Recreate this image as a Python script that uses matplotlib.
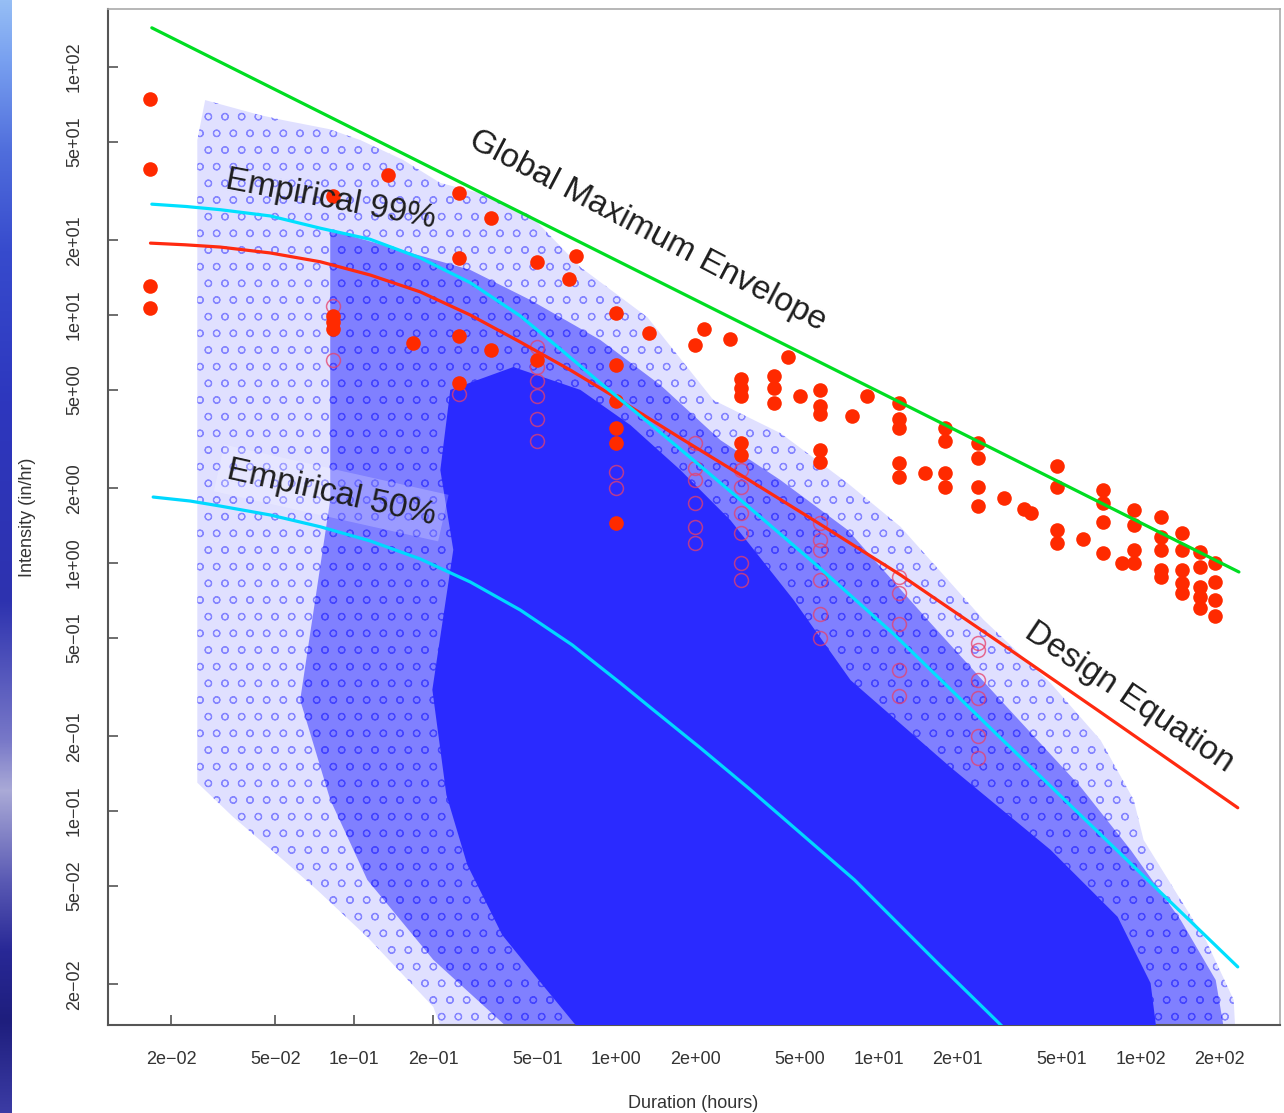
import numpy as np
import matplotlib.pyplot as plt
from matplotlib.ticker import FixedLocator, NullLocator, FixedFormatter

plt.rcParams['font.family'] = ['Liberation Sans', 'DejaVu Sans']
plt.rcParams['hatch.linewidth'] = 0.8

# duration (hours) / intensity (in/hr) curves
envelope_dur = [0.0169, 237.0]
envelope_int = [144.0, 0.92]

emp99_dur = [0.0169, 0.02285, 0.0308, 0.0478, 0.0742, 0.1151, 0.1786, 0.2773, 0.4302, 0.611,
             0.869, 1.348, 2.093, 3.162, 5.85, 11.4, 29.2, 234.6]
emp99_int = [28.0, 27.4, 26.6, 25.1, 22.4, 20.2, 17.0, 13.5, 9.91, 7.29,
             5.32, 3.63, 2.46, 1.70, 0.973, 0.518, 0.197, 0.0235]

emp50_dur = [0.0171, 0.02366, 0.0308, 0.0478, 0.0742, 0.1151, 0.1786, 0.2773, 0.4302, 0.679,
             1.036, 1.384, 2.092, 3.219, 8.10, 17.1, 27.97, 32.5]
emp50_int = [1.845, 1.778, 1.697, 1.562, 1.40, 1.227, 1.038, 0.838, 0.646, 0.467,
             0.328, 0.2555, 0.1795, 0.1227, 0.0527, 0.0239, 0.01437, 0.01227]

design_dur = [0.0167, 0.02264, 0.0308, 0.0478, 0.0742, 0.1151, 0.1786, 0.2773, 0.4302, 0.667,
              0.974, 1.755, 3.162, 5.65, 12.13, 29.2, 68.5, 234.6]
design_int = [19.5, 19.2, 18.8, 17.8, 16.4, 14.5, 12.4, 10.0, 7.78, 6.0,
              4.71, 3.19, 2.18, 1.49, 0.895, 0.475, 0.255, 0.103]

# extent of the storm record cloud (outer sparse fringe, denser band, saturated core)
fringe_dur = [0.0252, 0.0270, 0.0438, 0.0536, 0.0803, 0.1054, 0.1538, 0.213, 0.3027, 0.4697,
              0.729, 1.313, 2.345, 4.225, 7.62, 12.13, 25.17, 45.3, 70.3, 94.0, 102.6, 138.4,
              177.1, 226.3, 230.6, 0.2225, 0.2003, 0.1122, 0.0722, 0.0536, 0.0345, 0.0252]
fringe_int = [50.8, 73.6, 64.0, 61.1, 56.2, 50.8, 42.2, 34.1, 31.0, 25.3,
              15.6, 9.8, 4.54, 3.34, 2.10, 1.40, 0.59, 0.328, 0.193, 0.111, 0.0764, 0.0458,
              0.0302, 0.0173, 0.012, 0.012, 0.0162, 0.0310, 0.0480, 0.0634, 0.0946, 0.130]

band_dur = [0.081, 0.150, 0.2773, 0.4697, 0.869, 1.472, 2.494, 4.225, 7.62, 15.39, 29.2, 59.0,
            91.5, 142.1, 193.3, 211.0, 0.4302, 0.2003, 0.1122, 0.081, 0.0622, 0.081]
band_int = [22.0, 18.3, 15.2, 11.5, 7.93, 5.22, 3.13, 2.16, 1.36, 0.59, 0.28, 0.125,
            0.0697, 0.0363, 0.0208, 0.012, 0.012, 0.0251, 0.0527, 0.111, 0.280, 1.80]

core_dur = [0.2325, 0.4045, 0.729, 1.131, 1.755, 2.72, 4.74, 7.82, 18.83, 45.3, 81.7, 109.1,
            116.1, 0.775, 0.5309, 0.367, 0.270, 0.2247, 0.1986, 0.2387, 0.213]
core_int = [4.99, 6.17, 4.99, 3.60, 2.37, 1.49, 0.71, 0.337, 0.150, 0.0697, 0.0374, 0.0202,
            0.012, 0.012, 0.0195, 0.0316, 0.0606, 0.116, 0.308, 1.13, 2.37]

# observed extremes: (duration, intensities)
extreme_obs = [
    (0.0167, [74.3, 38.8, 13.1, 10.7]),
    (0.083, [30.2, 9.9, 9.4, 8.8]),
    (0.134, [36.7]),
    (0.167, [7.7]),
    (0.25, [31.1, 17.0, 8.2, 5.3]),
    (0.333, [24.6, 7.2]),
    (0.5, [16.4, 6.6]),
    (0.66, [14.0]), (0.70, [17.3]),
    (1.0, [10.2, 6.3, 4.5, 3.5, 3.05, 1.45]),
    (1.33, [8.5]),
    (2.0, [7.6]), (2.15, [8.8]), (2.72, [8.0]),
    (3.0, [5.5, 5.1, 4.7, 3.05, 2.72]),
    (4.0, [5.7, 5.1, 4.4]),
    (4.5, [6.8]), (5.0, [4.7]),
    (6.0, [5.0, 4.3, 4.0, 2.86, 2.55]),
    (7.9, [3.9]), (9.0, [4.7]),
    (12.0, [4.4, 3.8, 3.5, 2.53, 2.22]),
    (15.0, [2.31]),
    (18.0, [3.5, 3.1, 2.31, 2.02]),
    (24.0, [3.05, 2.65, 2.02, 1.70]),
    (30.0, [1.83]),
    (36.0, [1.65]), (38.0, [1.59]),
    (48.0, [2.46, 2.02, 1.36, 1.20]),
    (60.0, [1.25]),
    (72.0, [1.97, 1.75, 1.46, 1.10]),
    (85.0, [1.0]),
    (94.0, [1.64, 1.42, 1.13, 1.0]),
    (120.0, [1.53, 1.27, 1.13, 0.94, 0.88]),
    (144.0, [1.32, 1.13, 0.94, 0.83, 0.76]),
    (168.0, [1.11, 0.96, 0.80, 0.73, 0.66]),
    (192.0, [1.0, 0.84, 0.71, 0.61]),
]

local_obs = [
    (0.083, [10.9, 6.6]),
    (0.25, [4.8]),
    (0.5, [7.4, 6.2, 5.4, 4.7, 3.8, 3.1]),
    (1.0, [2.33, 2.0]),
    (2.0, [3.05, 2.41, 2.16, 1.75, 1.40, 1.20]),
    (3.0, [2.37, 2.02, 1.59, 1.32, 1.0, 0.85]),
    (6.0, [1.45, 1.24, 1.13, 0.85, 0.62, 0.50]),
    (12.0, [0.88, 0.76, 0.57, 0.37, 0.29]),
    (24.0, [0.475, 0.446, 0.337, 0.286, 0.20, 0.164]),
]

tick_vals = [0.02, 0.05, 0.1, 0.2, 0.5, 1, 2, 5, 10, 20, 50, 100, 200]
tick_text = ['2e\u221202', '5e\u221202', '1e\u221201', '2e\u221201', '5e\u221201', '1e+00', '2e+00',
             '5e+00', '1e+01', '2e+01', '5e+01', '1e+02', '2e+02']


def flatten(groups):
    xs, ys = [], []
    for d, vals in groups:
        xs += [d] * len(vals)
        ys += vals
    return xs, ys


W, H = 1284, 1113
fig = plt.figure(figsize=(W / 100, H / 100), dpi=100)
fig.patch.set_facecolor('white')

# slide background strip on the far left
strip = fig.add_axes([0, 0, 12 / W, 1])
stops_y = [0, 60, 150, 250, 400, 600, 740, 790, 880, 950, 1020, 1113]
stops_c = np.array([[150, 190, 245], [120, 160, 240], [80, 110, 220], [55, 75, 205],
                    [45, 55, 190], [45, 50, 175], [120, 120, 200], [170, 170, 215],
                    [90, 90, 180], [40, 40, 150], [30, 30, 125], [60, 60, 165]]) / 255
rows = np.arange(H)
grad = np.stack([np.interp(rows, stops_y, stops_c[:, k]) for k in range(3)], axis=1)
strip.imshow(grad[:, None, :], aspect='auto', extent=[0, 1, H, 0])
strip.set_axis_off()

ax = fig.add_axes([108 / W, 1 - 1025 / H, (1280 - 108) / W, (1025 - 9) / H])
ax.set_xscale('log')
ax.set_yscale('log')
ax.set_xlim(0.0115, 340)
ax.set_ylim(0.0137, 171.5)

ax.fill(fringe_dur, fringe_int, facecolor='#e0e0ff', edgecolor='#8585ff', hatch='o', lw=0, zorder=1)
ax.fill(band_dur, band_int, facecolor='#8080ff', edgecolor='#4444ff', hatch='o', lw=0, zorder=2)
ax.fill(core_dur, core_int, facecolor='#2a2aff', lw=0, zorder=3)

ox, oy = flatten(local_obs)
ax.plot(ox, oy, 'o', ms=10, mfc='none', mec='#e8406a', mew=1.1, alpha=0.75, zorder=4)
fx, fy = flatten(extreme_obs)
ax.plot(fx, fy, 'o', ms=10.5, color='#ff2a00', mew=0, zorder=5)

line_kw = dict(lw=2.3, zorder=6, solid_joinstyle='round', solid_capstyle='round')
ax.plot(design_dur, design_int, color='#ff2a10', **line_kw)
ax.plot(emp99_dur, emp99_int, color='#00e0ff', **line_kw)
ax.plot(emp50_dur, emp50_int, color='#00d8ff', **line_kw)
ax.plot(envelope_dur, envelope_int, color='#00dd22', **line_kw)

txt = dict(fontsize=24, color='#1e1e1e', ha='center', va='center', rotation_mode='anchor', zorder=8)
ax.text(1.313, 21.8, 'Global Maximum Envelope', rotation=-27.7, **txt)
ax.text(0.081, 29.1, 'Empirical 99%', rotation=-10.7, **txt)
ax.text(0.0817, 1.915, 'Empirical 50%', rotation=-12.6,
        bbox=dict(facecolor='white', alpha=0.22, edgecolor='none', pad=6), **txt)
ax.text(90, 0.286, 'Design Equation', rotation=-33.9, **txt)

for axis in (ax.xaxis, ax.yaxis):
    axis.set_major_locator(FixedLocator(tick_vals))
    axis.set_minor_locator(NullLocator())
ax.xaxis.set_major_formatter(FixedFormatter(tick_text))
ax.set_yticks(tick_vals[:-1])
ax.set_yticklabels(tick_text[:-1])
ax.tick_params(direction='in', length=7, width=1.2, color='#555555', labelcolor='#333333', labelsize=13)
ax.tick_params(axis='x', pad=19)
ax.tick_params(axis='y', pad=18, labelrotation=90)
for lbl in ax.get_yticklabels():
    lbl.set_va('center')

for side in ('left', 'bottom'):
    ax.spines[side].set_color('#555555')
    ax.spines[side].set_linewidth(1.5)
for side in ('top', 'right'):
    ax.spines[side].set_color('#aaaaaa')
    ax.spines[side].set_linewidth(1.2)

fig.text(693 / W, 1 - 1103 / H, 'Duration (hours)', fontsize=13, color='#333333', ha='center', va='center')
fig.text(28 / W, 1 - 517 / H, 'Intensity (in/hr)', fontsize=13, color='#333333', ha='center', va='center',
         rotation=90)

fig.savefig('out.png', dpi=100, facecolor='white')
